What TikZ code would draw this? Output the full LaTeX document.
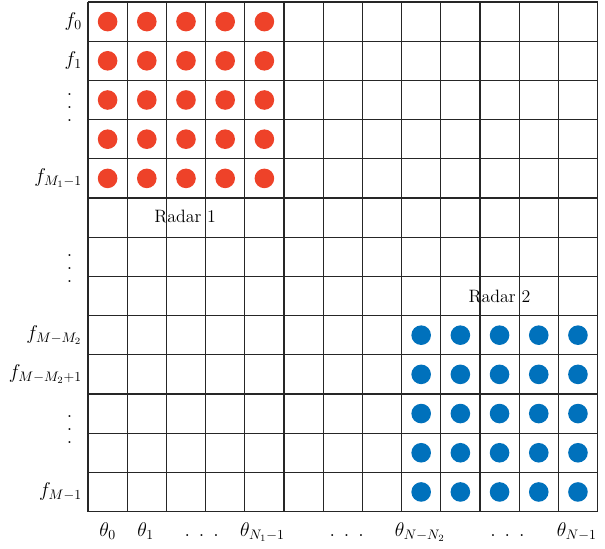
\documentclass[tikz,border=0pt]{standalone}
\usepackage{xcolor}
\definecolor{radarRed} {HTML}{EE4229}
\definecolor{radarBlue}{HTML}{0071BC}
\usetikzlibrary{positioning}

\begin{document}
\begin{tikzpicture}[
    every node/.style={font=\fontsize{13}{15}\selectfont},
    gridline/.style={line width=0.8pt, black!85},
    rdot/.style={circle, fill=radarRed, minimum size=5mm, inner sep=0pt},
    bdot/.style={circle, fill=radarBlue, minimum size=5mm, inner sep=0pt},
    flabel/.style={anchor=east, inner sep=0pt, font=\fontsize{14.5}{16}\selectfont},
    tlabel/.style={anchor=base, inner sep=0pt, font=\fontsize{14.5}{16}\selectfont},
    vdot/.style={inner sep=0pt, align=center, font=\fontsize{14.5}{9.5}\selectfont}
]
\useasboundingbox (-2.245,0.051) rectangle (13.19,-13.93);
% 13 x 13 cells
\draw[gridline] (0,0) grid (13,-13);
% Radar 1 occupies the top-left block
\foreach \r in {0,...,4}
  \foreach \c in {0,...,4}
    \node[rdot] (red-\r-\c) at (\c+0.5,-\r-0.5) {};
% Radar 2 occupies the bottom-right block
\foreach \r in {8,...,12}
  \foreach \c in {8,...,12}
    \node[bdot] (blue-\r-\c) at (\c+0.5,-\r-0.5) {};
\node (radarA) at (2.48,-5.48) {Radar 1};
\node (radarB) at (10.5,-7.52) {Radar 2};
% Frequency labels on the left
\node[flabel] (f0)  at (-0.15,-0.5)  {$f_0$};
\node[flabel] (f1)  at (-0.15,-1.5)  {$f_1$};
\node[vdot]   (vA)  at (-0.47,-2.7)  {.\\.\\.};
\node[flabel] (fM1) at (-0.15,-4.5)  {$f_{M_1-1}$};
\node[vdot]   (vB)  at (-0.47,-6.8)  {.\\.\\.};
\node[flabel] (fA)  at (-0.15,-8.5)  {$f_{M-M_2}$};
\node[flabel] (fB)  at (-0.15,-9.5)  {$f_{M-M_2+1}$};
\node[vdot]   (vC)  at (-0.47,-10.9) {.\\.\\.};
\node[flabel] (fM)  at (-0.15,-12.5) {$f_{M-1}$};
% Angle labels at the bottom
\node[tlabel] (t0)  at (0.5,-13.63)   {$\theta_0$};
\node[tlabel] (t1)  at (1.47,-13.63)  {$\theta_1$};
\node[tlabel] (dA)  at (2.9,-13.63)   {.\hspace{0.45em}.\hspace{0.45em}.};
\node[tlabel] (tN1) at (4.45,-13.63)  {$\theta_{N_1-1}$};
\node[tlabel] (dB)  at (6.6,-13.63)   {.\hspace{0.45em}.\hspace{0.45em}.};
\node[tlabel] (tA)  at (8.47,-13.63)  {$\theta_{N-N_2}$};
\node[tlabel] (dC)  at (10.7,-13.63)  {.\hspace{0.45em}.\hspace{0.45em}.};
\node[tlabel] (tN)  at (12.47,-13.63) {$\theta_{N-1}$};
\end{tikzpicture}
\end{document}
